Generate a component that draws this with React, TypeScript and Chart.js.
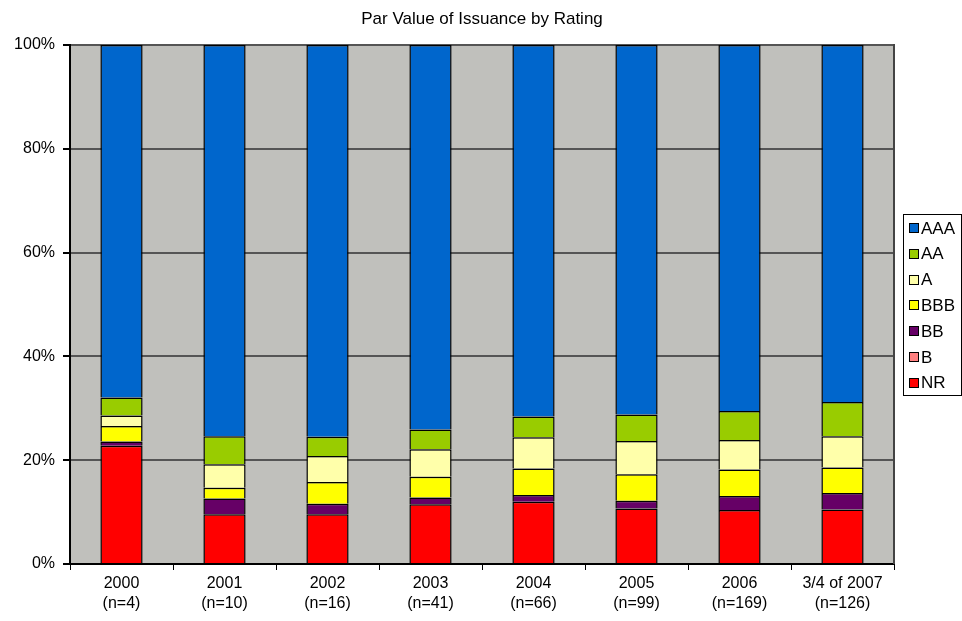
import React, { useEffect, useRef } from "react";
import { Chart, registerables } from "chart.js";

Chart.register(...registerables);

const years = ["2000", "2001", "2002", "2003", "2004", "2005", "2006", "3/4 of 2007"];
const counts = ["(n=4)", "(n=10)", "(n=16)", "(n=41)", "(n=66)", "(n=99)", "(n=169)", "(n=126)"];

const nrValues = [22.8, 9.6, 9.6, 11.5, 12.0, 10.7, 10.4, 10.5];
const bValues = [0, 0, 0, 0, 0, 0, 0, 0];
const bbValues = [0.8, 3.0, 2.0, 1.3, 1.3, 1.5, 2.7, 3.2];
const bbbValues = [3.0, 2.1, 4.2, 4.0, 5.1, 5.1, 5.1, 4.9];
const aValues = [2.0, 4.5, 5.0, 5.3, 6.0, 6.4, 5.7, 6.0];
const aaValues = [3.5, 5.4, 3.7, 3.8, 4.0, 5.1, 5.6, 6.6];
const aaaValues = [67.9, 75.4, 75.5, 74.1, 71.6, 71.2, 70.5, 68.8];

const yTicks = [0, 20, 40, 60, 80, 100];

const FONT = "'Liberation Sans', Arial, sans-serif";

const plotBg = {
  id: "plotBg",
  beforeDraw(chart: any) {
    const { ctx, chartArea } = chart;
    ctx.save();
    ctx.fillStyle = "#C0C0BC";
    ctx.fillRect(chartArea.left, chartArea.top, chartArea.right - chartArea.left, chartArea.bottom - chartArea.top);
    ctx.restore();
  },
  afterDraw(chart: any) {
    const { ctx, chartArea } = chart;
    ctx.save();
    ctx.strokeStyle = "#444";
    ctx.lineWidth = 2;
    ctx.beginPath();
    ctx.moveTo(Math.round(chartArea.right), chartArea.top - 1);
    ctx.lineTo(Math.round(chartArea.right), chartArea.bottom);
    ctx.stroke();
    ctx.restore();
  },
};

const titleAndLegend = {
  id: "titleAndLegend",
  afterDraw(chart: any) {
    const { ctx, chartArea } = chart;
    ctx.save();
    ctx.fillStyle = "#000";
    ctx.font = `17px ${FONT}`;
    ctx.textAlign = "center";
    ctx.textBaseline = "middle";
    ctx.fillText("Par Value of Issuance by Rating", (chartArea.left + chartArea.right) / 2, 19);

    const x0 = 903.5;
    const y0 = 214.5;
    const w = 58;
    const h = 181;
    ctx.fillStyle = "#fff";
    ctx.fillRect(x0, y0, w, h);
    ctx.strokeStyle = "#000";
    ctx.lineWidth = 1;
    ctx.strokeRect(x0, y0, w, h);
    const ds = chart.data.datasets.slice().reverse();
    ctx.font = `17px ${FONT}`;
    ctx.textAlign = "left";
    ctx.textBaseline = "middle";
    ds.forEach((d: any, i: number) => {
      const cy = 228 + i * 25.8;
      ctx.fillStyle = d.backgroundColor;
      ctx.fillRect(909, Math.round(cy - 5), 10, 10);
      ctx.strokeStyle = "#000";
      ctx.strokeRect(909.5, Math.round(cy - 5) + 0.5, 9, 9);
      ctx.fillStyle = "#000";
      ctx.fillText(d.label, 921, cy + 1);
    });
    ctx.restore();
  },
};

export default function App() {
  const ref = useRef<HTMLCanvasElement | null>(null);
  useEffect(() => {
    if (!ref.current) return;
    const mk = (label: string, data: number[], color: string) => ({
      label,
      data,
      backgroundColor: color,
      borderColor: "#000",
      borderWidth: 1.5,
      categoryPercentage: 1,
      barPercentage: 0.41,
    });
    const chart = new Chart(ref.current, {
      type: "bar",
      data: {
        labels: years.map((y, i) => [y, counts[i]]),
        datasets: [
          mk("NR", nrValues, "#FF0000"),
          mk("B", bValues, "#FF8080"),
          mk("BB", bbValues, "#660066"),
          mk("BBB", bbbValues, "#FFFF00"),
          mk("A", aValues, "#FFFFAA"),
          mk("AA", aaValues, "#99CC00"),
          mk("AAA", aaaValues, "#0066CC"),
        ],
      },
      options: {
        responsive: false,
        animation: false,
        layout: { padding: { top: 45, right: 68, bottom: 0, left: 0 } },
        plugins: {
          legend: { display: false },
          title: { display: false },
          tooltip: { enabled: false },
        },
        scales: {
          x: {
            stacked: true,
            offset: true,
            grid: {
              display: true,
              drawOnChartArea: false,
              offset: true,
              tickLength: 6,
              tickColor: "#000",
              lineWidth: 1,
            },
            border: { display: true, color: "#000", width: 2 },
            ticks: {
              color: "#000",
              font: { family: FONT, size: 16, lineHeight: 1.25 },
              padding: 4,
              maxRotation: 0,
              autoSkip: false,
            },
            afterFit(scale: any) {
              scale.height = 57;
            },
          },
          y: {
            stacked: true,
            min: 0,
            max: 100,
            afterBuildTicks(scale: any) {
              scale.ticks = yTicks.map((v) => ({ value: v }));
            },
            grid: {
              color: "#555",
              lineWidth: 2,
              tickLength: 7,
              tickColor: "#000",
            },
            border: { display: true, color: "#000", width: 2 },
            ticks: {
              color: "#000",
              font: { family: FONT, size: 16 },
              padding: 8,
              callback: (v: any) => `${v}%`,
            },
            afterFit(scale: any) {
              scale.width = 70;
            },
          },
        },
      },
      plugins: [plotBg, titleAndLegend],
    });
    return () => chart.destroy();
  }, []);
  return (
    <div style={{ position: "fixed", left: 0, top: 0, width: 962, height: 621, background: "#fff" }}>
      <canvas ref={ref} width={962} height={621} style={{ display: "block" }} />
    </div>
  );
}
